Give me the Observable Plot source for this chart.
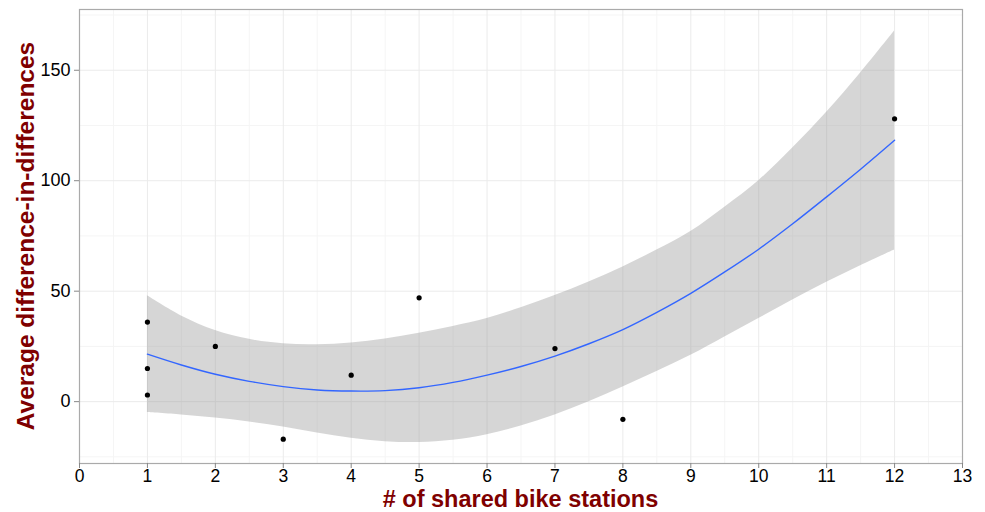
<!DOCTYPE html>
<html>
<head>
<meta charset="utf-8">
<script src="https://cdn.jsdelivr.net/npm/d3@7"></script>
<script src="https://cdn.jsdelivr.net/npm/@observablehq/plot@0.6"></script>
<style>
  html, body { margin: 0; padding: 0; background: #fff; }
  #chart { width: 985px; height: 512px; }
</style>
</head>
<body>
<div id="chart"></div>
<script>
// Observed points
const stations = [1, 1, 1, 2, 3, 4, 5, 7, 8, 12];
const didValues = [36, 15, 3, 25, -17, 12, 47, 24, -8, 128];

// Fitted smooth line and confidence band
const fitX = [1, 1.5, 2, 2.5, 3, 3.5, 4, 4.5, 5, 5.5, 6, 6.5, 7, 7.5, 8, 8.5, 9, 9.5, 10, 10.5, 11, 11.5, 12];
const fitY = [21.5, 16.6, 12.4, 9.2, 6.8, 5.3, 4.8, 5.0, 6.3, 8.7, 12.0, 15.9, 20.6, 26.2, 32.6, 40.4, 49.0, 58.7, 69.0, 80.5, 92.7, 105.2, 118.3];
const bandLow = [-4.9, -6.0, -7.4, -9.2, -11.5, -14.2, -16.6, -18.1, -18.5, -17.5, -15.0, -11.0, -6.0, 0.0, 6.6, 13.6, 21.0, 29.3, 37.6, 46.0, 54.0, 61.5, 68.6];
const bandHigh = [47.9, 38.8, 32.2, 28.2, 26.2, 25.8, 26.6, 28.4, 31.0, 34.0, 37.6, 42.5, 48.0, 54.2, 61.0, 68.6, 77.0, 88.0, 100.0, 114.8, 131.0, 148.8, 167.8];

// Axis ticks and grid
const xTicks = [0, 1, 2, 3, 4, 5, 6, 7, 8, 9, 10, 11, 12, 13];
const xMinor = [0.5, 1.5, 2.5, 3.5, 4.5, 5.5, 6.5, 7.5, 8.5, 9.5, 10.5, 11.5, 12.5];
const yTicks = [0, 50, 100, 150];
const yMinor = [-25, 25, 75, 125, 175];

const xTitle = "# of shared bike stations";
const yTitle = "Average difference-in-differences";

const points = stations.map((x, i) => ({x, y: didValues[i]}));
const fit = fitX.map((x, i) => ({x, y: fitY[i], lo: bandLow[i], hi: bandHigh[i]}));

const W = 985, H = 512;
const mL = 79, mR = 23, mT = 9, mB = 49;

const chart = Plot.plot({
  width: W,
  height: H,
  marginLeft: mL,
  marginRight: mR,
  marginTop: mT,
  marginBottom: mB,
  style: {fontFamily: "'Liberation Sans', Arial, sans-serif", background: "#fff"},
  x: {domain: [0, 13]},
  y: {domain: [-28, 177.5]},
  marks: [
    Plot.ruleX(xMinor, {stroke: "#f5f5f5", strokeWidth: 1}),
    Plot.ruleY(yMinor, {stroke: "#f5f5f5", strokeWidth: 1}),
    Plot.ruleX(xTicks, {stroke: "#ebebeb", strokeWidth: 1}),
    Plot.ruleY(yTicks, {stroke: "#ebebeb", strokeWidth: 1}),
    Plot.areaY(fit, {x: "x", y1: "lo", y2: "hi", fill: "#999999", fillOpacity: 0.4, curve: "catmull-rom"}),
    Plot.line(fit, {x: "x", y: "y", stroke: "#3366FF", strokeWidth: 1.4, curve: "catmull-rom"}),
    Plot.dot(points, {x: "x", y: "y", r: 2.6, fill: "#000", stroke: "none"}),
    Plot.frame({stroke: "#aaaaaa", strokeWidth: 1.2}),
    Plot.axisX(xTicks, {tickSize: 5, tickPadding: 1, fontSize: 17.5, stroke: "#888", fill: "#000", label: null}),
    Plot.axisY(yTicks, {tickSize: 5, tickPadding: 4, fontSize: 18, stroke: "#888", fill: "#000", label: null})
  ]
});

const svg = d3.select(chart);

svg.append("text")
  .attr("x", (mL + (W - mR)) / 2)
  .attr("y", 506.5)
  .attr("text-anchor", "middle")
  .attr("font-family", "'Liberation Sans', Arial, sans-serif")
  .attr("font-weight", "bold")
  .attr("font-size", 23.5)
  .attr("fill", "#7f0000")
  .text(xTitle);

svg.append("text")
  .attr("transform", `translate(34,${(mT + (H - mB)) / 2}) rotate(-90)`)
  .attr("text-anchor", "middle")
  .attr("font-family", "'Liberation Sans', Arial, sans-serif")
  .attr("font-weight", "bold")
  .attr("font-size", 24.5)
  .attr("fill", "#7f0000")
  .text(yTitle);

document.getElementById("chart").appendChild(chart);
</script>
</body>
</html>
